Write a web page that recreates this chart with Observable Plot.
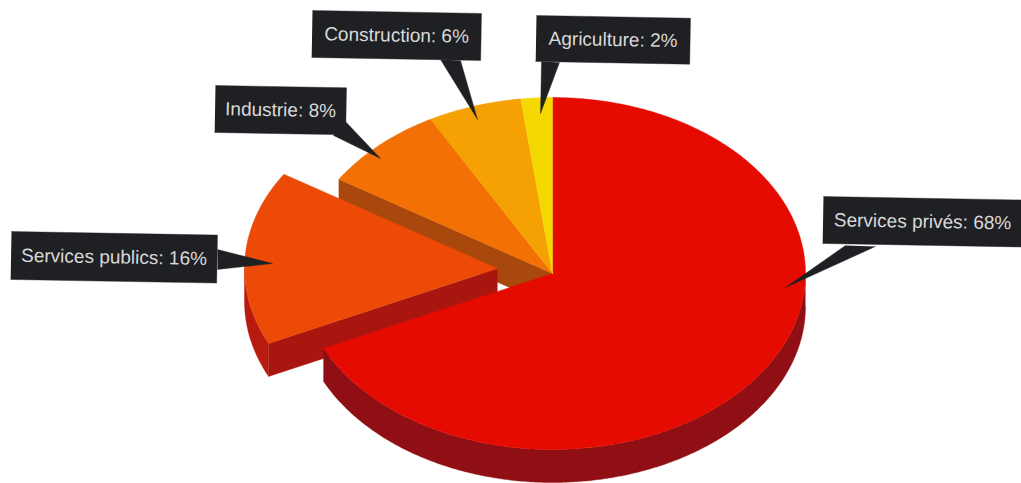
<!DOCTYPE html>
<html>
<head>
<meta charset="utf-8">
<style>
  html, body { margin: 0; padding: 0; background: #fff; }
  svg { display: block; }
</style>
<script src="https://cdn.jsdelivr.net/npm/d3@7"></script>
<script src="https://cdn.jsdelivr.net/npm/@observablehq/plot@0.6"></script>
</head>
<body>
<script>
// Employment share by sector, in percent, clockwise from twelve o'clock.
const sectors = ["Services privés", "Services publics", "Industrie", "Construction", "Agriculture"];
const shares = [68, 16, 8, 6, 2];

// Face and side colours of each slice.
const faceColors = ["#e60b00", "#ec4a06", "#f27004", "#f5a003", "#f5d800"];
const wallColors = ["#8f0f14", "#a91610", "#a8480c", "#a86a08", "#a89008"];
const cutSectors = ["Services publics"];

// Drawing geometry of the tilted disc.
const disc = {cx: 552, cy: 273, rx: 253, ry: 176, depth: 33, pullX: 55, pullY: 5};

// Callout boxes: top-left corner and size, pointer base and tip.
const callouts = [
  {sector: "Services privés", x: 823, y: 196, w: 199, h: 47, base: [[845, 245], [875, 246]], tip: [785, 287]},
  {sector: "Services publics", x: 11, y: 231, w: 206, h: 48, base: [[217, 249], [217, 269]], tip: [272, 263]},
  {sector: "Industrie", x: 215, y: 85, w: 131, h: 47, base: [[333, 135], [344, 120]], tip: [380, 158]},
  {sector: "Construction", x: 312, y: 10, w: 169, h: 47, base: [[440, 59], [460, 60]], tip: [477, 119]},
  {sector: "Agriculture", x: 536, y: 15, w: 154, h: 46, base: [[541, 61], [559, 62]], tip: [540, 113]}
];
const tilt = Math.tan(1 * Math.PI / 180);

// Cumulative start and end angle of each slice, in radians.
let running = 0;
const total = d3.sum(shares);
const slices = sectors.map((name, i) => {
  const a0 = running / total * 2 * Math.PI;
  running += shares[i];
  const a1 = running / total * 2 * Math.PI;
  const pulled = cutSectors.includes(name);
  return {name, share: shares[i], a0, a1, face: faceColors[i], wall: wallColors[i],
          dx: pulled ? -disc.pullX : 0, dy: pulled ? -disc.pullY : 0};
});
const sliceOf = (name) => slices.find((s) => s.name === name);

const onRim = (a, dx = 0, dy = 0) => ({
  x: disc.cx + dx + disc.rx * Math.sin(a),
  y: disc.cy + dy - disc.ry * Math.cos(a)
});
const arc = (a0, a1, dx = 0, dy = 0) => {
  const n = Math.max(2, Math.ceil(Math.abs(a1 - a0) / 0.01));
  return d3.range(n + 1).map((k) => onRim(a0 + (a1 - a0) * k / n, dx, dy));
};
const hub = (dx = 0, dy = 0) => ({x: disc.cx + dx, y: disc.cy + dy});

// Top face of a slice.
const facePath = (s) => [hub(s.dx, s.dy), ...arc(s.a0, s.a1, s.dx, s.dy), hub(s.dx, s.dy)];
// Outer side of a slice, between two angles.
const rimWall = (a0, a1, dx, dy) => [...arc(a0, a1, dx, dy), ...arc(a1, a0, dx, dy + disc.depth)];
// Straight cut side of a slice, running from the hub to the rim at one angle.
const cutWall = (a, dx, dy) => [hub(dx, dy), onRim(a, dx, dy), onRim(a, dx, dy + disc.depth), hub(dx, dy + disc.depth)];

const polygon = (points, color) =>
  Plot.line(points, {x: "x", y: "y", fill: color, stroke: color, strokeWidth: 0.4, curve: "linear"});

const main = sliceOf("Services privés");
const pulled = sliceOf("Services publics");
const industry = sliceOf("Industrie");

// Corners of a callout box, leaning slightly with the page.
const boxPath = (c) => [
  {x: c.x, y: c.y},
  {x: c.x + c.w, y: c.y + c.w * tilt},
  {x: c.x + c.w - c.h * tilt, y: c.y + c.w * tilt + c.h},
  {x: c.x - c.h * tilt, y: c.y + c.h}
];
const pointerPath = (c) => [
  {x: c.base[0][0], y: c.base[0][1]},
  {x: c.tip[0], y: c.tip[1]},
  {x: c.base[1][0], y: c.base[1][1]}
];
const labels = callouts.map((c) => ({
  x: c.x + c.w / 2 - c.h * tilt / 2,
  y: c.y + c.h / 2 + c.w * tilt / 2,
  text: `${c.sector}: ${sliceOf(c.sector).share}%`
}));

const boxColor = "#1f2023";

const chart = Plot.plot({
  width: 1021,
  height: 483,
  margin: 0,
  style: {background: "#fff"},
  x: {domain: [0, 1021], range: [0, 1021], axis: null},
  y: {domain: [0, 483], range: [0, 483], axis: null},
  marks: [
    // Side exposed by the slice pulled out of the disc.
    polygon(cutWall(industry.a0, 0, 0), industry.wall),
    // Pulled-out slice: sides, then face.
    polygon(rimWall(pulled.a0, 1.5 * Math.PI, pulled.dx, pulled.dy), "#b81a10"),
    polygon(cutWall(pulled.a0, pulled.dx, pulled.dy), pulled.wall),
    polygon(facePath(pulled), pulled.face),
    // Main disc: front side, then the faces of the slices that stayed in place.
    polygon(rimWall(0.5 * Math.PI, main.a1, 0, 0), main.wall),
    ...slices.filter((s) => s.dx === 0).map((s) => polygon(facePath(s), s.face)),
    // Callouts.
    ...callouts.map((c) => polygon(pointerPath(c), boxColor)),
    ...callouts.map((c) => polygon(boxPath(c), boxColor)),
    Plot.text(labels, {
      x: "x",
      y: "y",
      text: "text",
      fill: "#d9d9d9",
      fontSize: 19,
      fontFamily: "Liberation Sans, Arial, sans-serif",
      rotate: 1,
      textAnchor: "middle"
    })
  ]
});
document.body.appendChild(chart);
</script>
</body>
</html>
